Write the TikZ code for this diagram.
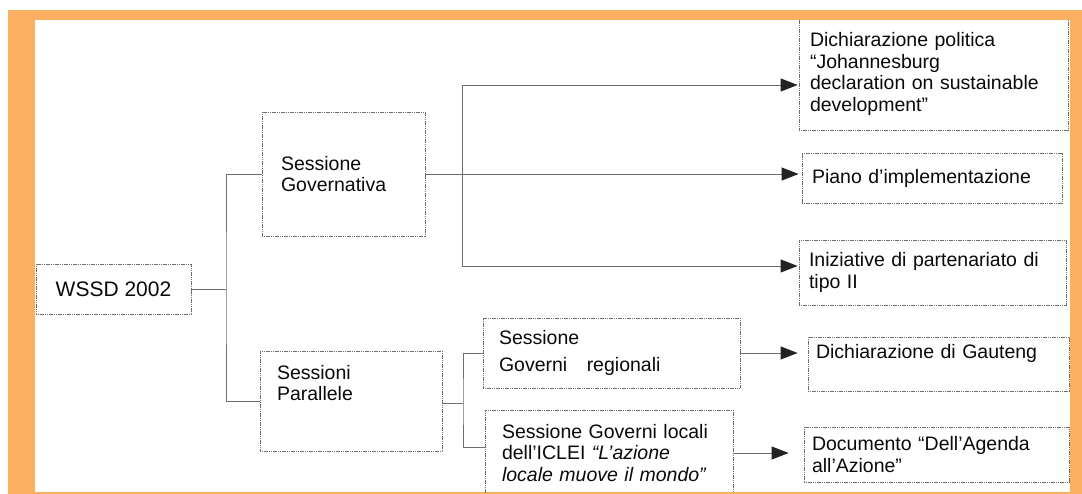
\documentclass[tikz,border=0pt]{standalone}
\usepackage{fontspec}
\setmainfont{Liberation Sans}
\usepackage{xcolor}
\definecolor{frameorange}{RGB}{251,176,97}
\definecolor{linegray}{RGB}{110,110,110}
\definecolor{tipgray}{RGB}{35,35,35}
\definecolor{inkgray}{RGB}{10,10,10}
\usetikzlibrary{arrows.meta}

\begin{document}
\begin{tikzpicture}[x=1pt,y=-1pt,
  box/.style={draw=linegray,line width=0.8pt,dash pattern=on 1.2pt off 0.6pt,
    inner sep=0pt,align=left,text=inkgray,font=\fontsize{19.5}{21.5}\selectfont},
  link/.style={draw=linegray,line width=0.9pt},
  arrow/.style={link,-{Triangle[length=17pt,width=13pt,color=tipgray]}}]
  \useasboundingbox (0,0) rectangle (1082,494);
  \fill[frameorange] (8,10) rectangle (1082,494);
  \fill[white] (35,20) rectangle (1070,492);
  \begin{scope}
    \clip (35,20) rectangle (1070,492);
    \node[box,align=center,minimum width=155pt,minimum height=50pt,
      font=\fontsize{21}{24}\selectfont] (wssd) at (113.5,289) {WSSD 2002};
    \node[box,minimum width=163pt,minimum height=124pt,text width=125pt]
      (gov) at (343.5,174) {Sessione\\Governativa};
    \node[box,minimum width=182pt,minimum height=100pt,text width=148pt]
      (par) at (351,401) {Sessioni\\Parallele\par\vspace*{36pt}};
    \node[box,minimum width=269pt,minimum height=112pt,text width=247pt]
      (dich) at (933.5,74) {Dichiarazione politica\\“Johannesburg\\declaration on sustainable\\development”};
    \node[box,minimum width=260pt,minimum height=50pt,text width=240pt]
      (piano) at (932,178) {Piano d’implementazione};
    \node[box,minimum width=267pt,minimum height=65pt,text width=247pt]
      (iniz) at (932.5,272.5) {Iniziative di partenariato di\\tipo II};
    \node[box,minimum width=257pt,minimum height=70pt,text width=225pt]
      (reg) at (611.5,353) {Sessione\\[6pt]Governi\ \ \ regionali};
    \node[box,minimum width=248pt,minimum height=86pt,text width=214pt]
      (loc) at (609,453) {Sessione Governi locali\\dell’ICLEI \textit{“L’azione}\\\textit{locale muove il mondo”}};
    \node[box,minimum width=261pt,minimum height=54pt,text width=245pt]
      (gaut) at (938.5,364) {Dichiarazione di Gauteng\par\vspace*{22pt}};
    \node[box,minimum width=265pt,minimum height=55pt,text width=249pt]
      (doc) at (936.5,454.5) {Documento “Dell’Agenda\\all’Azione”};

    \coordinate (fork) at (226,289);
    \coordinate (gtop) at (462,85);
    \coordinate (gbot) at (462,266);
    \coordinate (pfork) at (463,403);

    \draw[link] (wssd.east) -- (fork);
    \draw[link] (gov.west) -| (fork) |- (par.west);
    \draw[arrow,shorten >=3pt] (gov.east) -- (gov.east -| piano.west);
    \draw[link] (gtop) -- (gbot);
    \draw[arrow,shorten >=1pt] (gtop) -- (gtop -| dich.west);
    \draw[arrow,shorten >=1pt] (gbot) -- (gbot -| iniz.west);
    \draw[link] (par.east |- pfork) -- (pfork);
    \draw[link] (reg.west) -| (pfork) |- ([yshift=6pt]loc.west);
    \draw[arrow,shorten >=10pt] (reg.east) -- (reg.east -| gaut.west);
    \draw[arrow,shorten >=15pt] (loc.east) -- (loc.east -| doc.west);
  \end{scope}
\end{tikzpicture}
\end{document}
